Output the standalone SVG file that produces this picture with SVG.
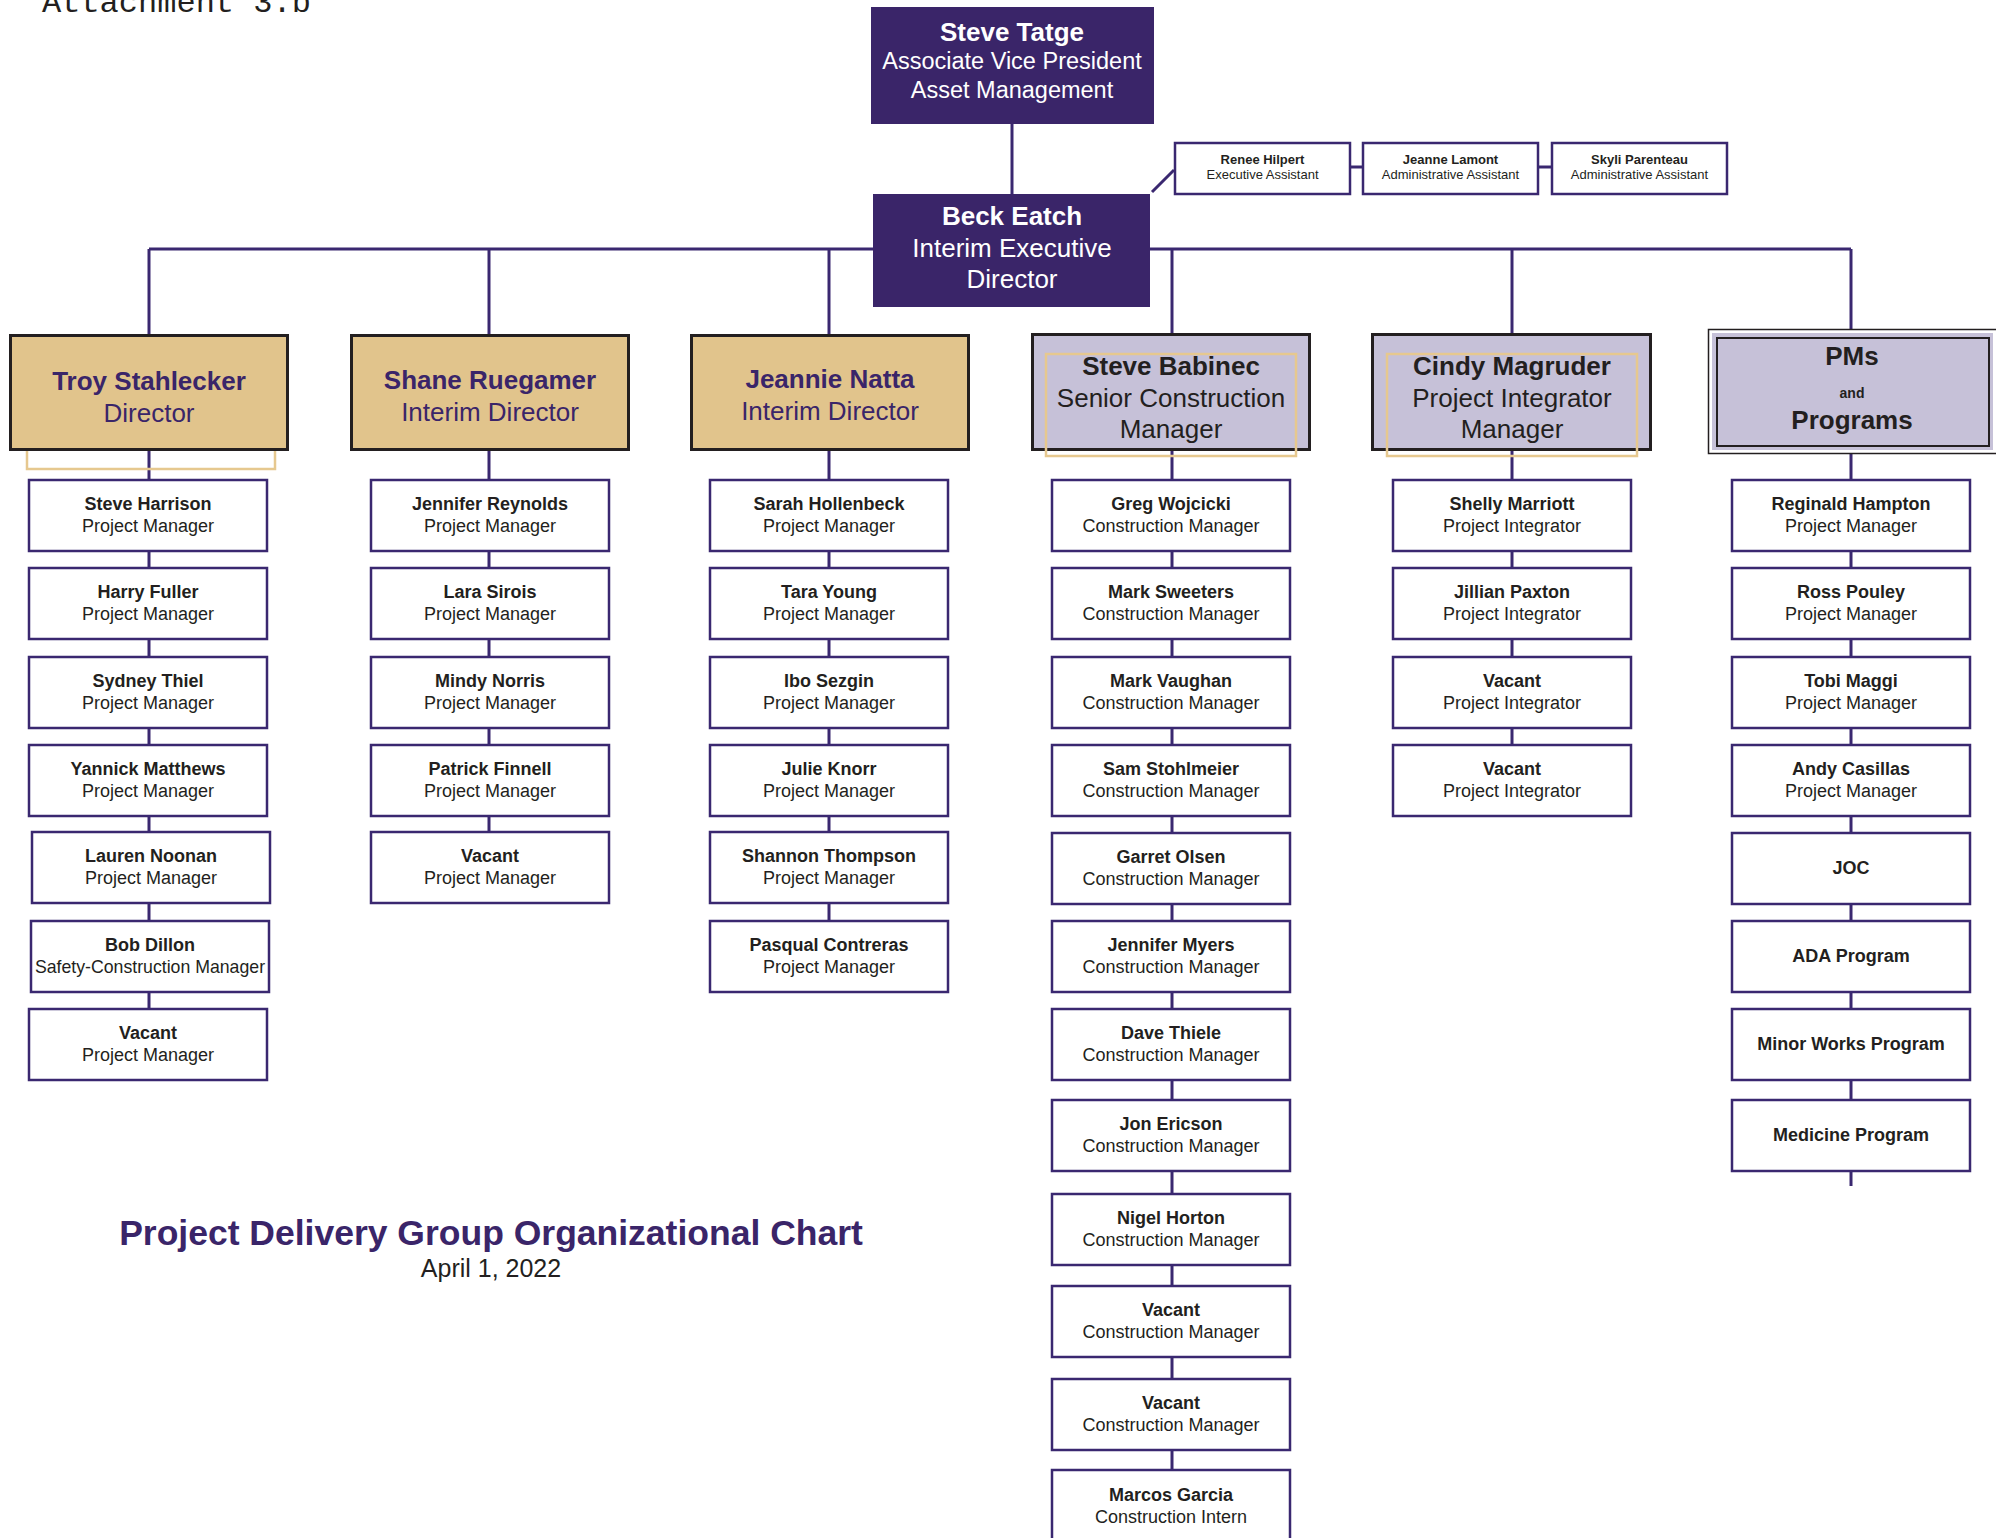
<svg xmlns="http://www.w3.org/2000/svg" width="1996" height="1538" viewBox="0 0 1996 1538">
<style>
  text { font-family: "Liberation Sans", Arial, sans-serif; text-anchor: middle; fill: #231f20; }
  .b { font-weight: bold; }
  .exec { fill: #3a2569; }
  .wt { fill: #ffffff; }
  .dir { fill: #e1c48c; stroke: #231f20; stroke-width: 3; }
  .lav { fill: #c6c1d8; stroke: #231f20; stroke-width: 3; }
  .box { fill: #ffffff; stroke: #3a2870; stroke-width: 2.5; }
  .gold { fill: none; stroke: #e6c88f; stroke-width: 2.5; }
  .ln { fill: none; stroke: #3a2870; stroke-width: 3; }
  .n { font-size: 18px; font-weight: bold; }
  .r { font-size: 18px; }
  .s { font-size: 13px; }
  .big { font-size: 26px; }
  .pur { fill: #3a2569; }
</style>

<text x="42" y="12" style="font-family:'Liberation Mono','Courier New',monospace;font-size:32px;text-anchor:start">Attachment 3.b</text>

<g id="connectors">
  <line class="ln" x1="1012" y1="124" x2="1012" y2="194"/>
  <line class="ln" x1="149" y1="249" x2="1851" y2="249"/>
  <line class="ln" x1="149" y1="249" x2="149" y2="334"/>
  <line class="ln" x1="489" y1="249" x2="489" y2="334"/>
  <line class="ln" x1="829" y1="249" x2="829" y2="334"/>
  <line class="ln" x1="1172" y1="249" x2="1172" y2="333"/>
  <line class="ln" x1="1512" y1="249" x2="1512" y2="333"/>
  <line class="ln" x1="1851" y1="249" x2="1851" y2="329"/>
  <line class="ln" x1="1152" y1="192" x2="1174" y2="170" stroke-width="2.5"/>
  <line class="ln" x1="1351" y1="167" x2="1362" y2="167" stroke-width="2.5"/>
  <line class="ln" x1="1539" y1="167" x2="1551" y2="167" stroke-width="2.5"/>
  <line class="ln" x1="149" y1="451" x2="149" y2="1008"/>
  <line class="ln" x1="489" y1="451" x2="489" y2="831"/>
  <line class="ln" x1="829" y1="451" x2="829" y2="920"/>
  <line class="ln" x1="1172" y1="451" x2="1172" y2="1470"/>
  <line class="ln" x1="1512" y1="451" x2="1512" y2="744"/>
  <line class="ln" x1="1851" y1="454" x2="1851" y2="1186"/>
</g>

<g id="n-tatge">
  <rect class="exec" x="871" y="7" width="283" height="117"/>
  <text class="wt b big" x="1012" y="41">Steve Tatge</text>
  <text class="wt" x="1012" y="69" style="font-size:23.5px">Associate Vice President</text>
  <text class="wt" x="1012" y="98" style="font-size:23.5px">Asset Management</text>
</g>

<g id="n-eatch">
  <rect class="exec" x="873" y="194" width="277" height="113"/>
  <text class="wt b big" x="1012" y="225">Beck Eatch</text>
  <text class="wt big" x="1012" y="257">Interim Executive</text>
  <text class="wt big" x="1012" y="288">Director</text>
</g>

<g id="n-hilpert">
  <rect class="box" x="1175" y="143" width="175" height="51" stroke-width="2"/>
  <text class="b s" x="1262.5" y="164">Renee Hilpert</text>
  <text class="s" x="1262.5" y="179">Executive Assistant</text>
</g>
<g id="n-lamont">
  <rect class="box" x="1363" y="143" width="175" height="51" stroke-width="2"/>
  <text class="b s" x="1450.5" y="164">Jeanne Lamont</text>
  <text class="s" x="1450.5" y="179">Administrative Assistant</text>
</g>
<g id="n-parenteau">
  <rect class="box" x="1552" y="143" width="175" height="51" stroke-width="2"/>
  <text class="b s" x="1639.5" y="164">Skyli Parenteau</text>
  <text class="s" x="1639.5" y="179">Administrative Assistant</text>
</g>

<g id="n-stahlecker">
  <rect class="gold" x="27" y="380" width="248" height="89"/>
  <rect class="dir" x="10.5" y="335.5" width="277" height="114"/>
  <text class="b big pur" x="149" y="390">Troy Stahlecker</text>
  <text class="big pur" x="149" y="422">Director</text>
</g>
<g id="n-ruegamer">
  <rect class="dir" x="351.5" y="335.5" width="277" height="114"/>
  <text class="b big pur" x="490" y="389">Shane Ruegamer</text>
  <text class="big pur" x="490" y="421">Interim Director</text>
</g>
<g id="n-natta">
  <rect class="dir" x="691.5" y="335.5" width="277" height="114"/>
  <text class="b big pur" x="830" y="388">Jeannie Natta</text>
  <text class="big pur" x="830" y="420">Interim Director</text>
</g>
<g id="n-babinec">
  <rect class="lav" x="1032.5" y="334.5" width="277" height="115"/>
  <rect class="gold" x="1046" y="354" width="250" height="102"/>
  <text class="b big" x="1171" y="375">Steve Babinec</text>
  <text class="big" x="1171" y="407">Senior Construction</text>
  <text class="big" x="1171" y="438">Manager</text>
</g>
<g id="n-magruder">
  <rect class="lav" x="1372.5" y="334.5" width="278" height="115"/>
  <rect class="gold" x="1387" y="354" width="250" height="102"/>
  <text class="b big" x="1512" y="375">Cindy Magruder</text>
  <text class="big" x="1512" y="407">Project Integrator</text>
  <text class="big" x="1512" y="438">Manager</text>
</g>
<g id="n-pms">
  <rect x="1708.5" y="329.5" width="300" height="124" fill="#ffffff" stroke="#231f20" stroke-width="1.5"/>
  <rect x="1712" y="333" width="281" height="117" fill="#c6c1d8"/>
  <rect x="1717" y="338" width="272" height="108" fill="none" stroke="#231f20" stroke-width="2"/>
  <text class="b big" x="1852" y="365">PMs</text>
  <text class="b" x="1852" y="398" style="font-size:14px">and</text>
  <text class="b big" x="1852" y="429">Programs</text>
</g>

<!-- Column 1 -->
<g id="n-harrison"><rect class="box" x="29" y="480" width="238" height="71"/><text class="n" x="148" y="510">Steve Harrison</text><text class="r" x="148" y="532">Project Manager</text></g>
<g id="n-fuller"><rect class="box" x="29" y="568" width="238" height="71"/><text class="n" x="148" y="598">Harry Fuller</text><text class="r" x="148" y="620">Project Manager</text></g>
<g id="n-thiel"><rect class="box" x="29" y="657" width="238" height="71"/><text class="n" x="148" y="687">Sydney Thiel</text><text class="r" x="148" y="709">Project Manager</text></g>
<g id="n-matthews"><rect class="box" x="29" y="745" width="238" height="71"/><text class="n" x="148" y="775">Yannick Matthews</text><text class="r" x="148" y="797">Project Manager</text></g>
<g id="n-noonan"><rect class="box" x="32" y="832" width="238" height="71"/><text class="n" x="151" y="862">Lauren Noonan</text><text class="r" x="151" y="884">Project Manager</text></g>
<g id="n-dillon"><rect class="box" x="31" y="921" width="238" height="71"/><text class="n" x="150" y="951">Bob Dillon</text><text class="r" x="150" y="973" style="font-size:17.7px">Safety-Construction Manager</text></g>
<g id="n-vacant1"><rect class="box" x="29" y="1009" width="238" height="71"/><text class="n" x="148" y="1039">Vacant</text><text class="r" x="148" y="1061">Project Manager</text></g>

<!-- Column 2 -->
<g id="n-reynolds"><rect class="box" x="371" y="480" width="238" height="71"/><text class="n" x="490" y="510">Jennifer Reynolds</text><text class="r" x="490" y="532">Project Manager</text></g>
<g id="n-sirois"><rect class="box" x="371" y="568" width="238" height="71"/><text class="n" x="490" y="598">Lara Sirois</text><text class="r" x="490" y="620">Project Manager</text></g>
<g id="n-norris"><rect class="box" x="371" y="657" width="238" height="71"/><text class="n" x="490" y="687">Mindy Norris</text><text class="r" x="490" y="709">Project Manager</text></g>
<g id="n-finnell"><rect class="box" x="371" y="745" width="238" height="71"/><text class="n" x="490" y="775">Patrick Finnell</text><text class="r" x="490" y="797">Project Manager</text></g>
<g id="n-vacant2"><rect class="box" x="371" y="832" width="238" height="71"/><text class="n" x="490" y="862">Vacant</text><text class="r" x="490" y="884">Project Manager</text></g>

<!-- Column 3 -->
<g id="n-hollenbeck"><rect class="box" x="710" y="480" width="238" height="71"/><text class="n" x="829" y="510">Sarah Hollenbeck</text><text class="r" x="829" y="532">Project Manager</text></g>
<g id="n-young"><rect class="box" x="710" y="568" width="238" height="71"/><text class="n" x="829" y="598">Tara Young</text><text class="r" x="829" y="620">Project Manager</text></g>
<g id="n-sezgin"><rect class="box" x="710" y="657" width="238" height="71"/><text class="n" x="829" y="687">Ibo Sezgin</text><text class="r" x="829" y="709">Project Manager</text></g>
<g id="n-knorr"><rect class="box" x="710" y="745" width="238" height="71"/><text class="n" x="829" y="775">Julie Knorr</text><text class="r" x="829" y="797">Project Manager</text></g>
<g id="n-thompson"><rect class="box" x="710" y="832" width="238" height="71"/><text class="n" x="829" y="862">Shannon Thompson</text><text class="r" x="829" y="884">Project Manager</text></g>
<g id="n-contreras"><rect class="box" x="710" y="921" width="238" height="71"/><text class="n" x="829" y="951">Pasqual Contreras</text><text class="r" x="829" y="973">Project Manager</text></g>

<!-- Column 4 -->
<g id="n-wojcicki"><rect class="box" x="1052" y="480" width="238" height="71"/><text class="n" x="1171" y="510">Greg Wojcicki</text><text class="r" x="1171" y="532">Construction Manager</text></g>
<g id="n-sweeters"><rect class="box" x="1052" y="568" width="238" height="71"/><text class="n" x="1171" y="598">Mark Sweeters</text><text class="r" x="1171" y="620">Construction Manager</text></g>
<g id="n-vaughan"><rect class="box" x="1052" y="657" width="238" height="71"/><text class="n" x="1171" y="687">Mark Vaughan</text><text class="r" x="1171" y="709">Construction Manager</text></g>
<g id="n-stohlmeier"><rect class="box" x="1052" y="745" width="238" height="71"/><text class="n" x="1171" y="775">Sam Stohlmeier</text><text class="r" x="1171" y="797">Construction Manager</text></g>
<g id="n-olsen"><rect class="box" x="1052" y="833" width="238" height="71"/><text class="n" x="1171" y="863">Garret Olsen</text><text class="r" x="1171" y="885">Construction Manager</text></g>
<g id="n-myers"><rect class="box" x="1052" y="921" width="238" height="71"/><text class="n" x="1171" y="951">Jennifer Myers</text><text class="r" x="1171" y="973">Construction Manager</text></g>
<g id="n-thiele"><rect class="box" x="1052" y="1009" width="238" height="71"/><text class="n" x="1171" y="1039">Dave Thiele</text><text class="r" x="1171" y="1061">Construction Manager</text></g>
<g id="n-ericson"><rect class="box" x="1052" y="1100" width="238" height="71"/><text class="n" x="1171" y="1130">Jon Ericson</text><text class="r" x="1171" y="1152">Construction Manager</text></g>
<g id="n-horton"><rect class="box" x="1052" y="1194" width="238" height="71"/><text class="n" x="1171" y="1224">Nigel Horton</text><text class="r" x="1171" y="1246">Construction Manager</text></g>
<g id="n-vacant3"><rect class="box" x="1052" y="1286" width="238" height="71"/><text class="n" x="1171" y="1316">Vacant</text><text class="r" x="1171" y="1338">Construction Manager</text></g>
<g id="n-vacant4"><rect class="box" x="1052" y="1379" width="238" height="71"/><text class="n" x="1171" y="1409">Vacant</text><text class="r" x="1171" y="1431">Construction Manager</text></g>
<g id="n-garcia"><rect class="box" x="1052" y="1470" width="238" height="90"/><text class="n" x="1171" y="1501">Marcos Garcia</text><text class="r" x="1171" y="1523">Construction Intern</text></g>

<!-- Column 5 -->
<g id="n-marriott"><rect class="box" x="1393" y="480" width="238" height="71"/><text class="n" x="1512" y="510">Shelly Marriott</text><text class="r" x="1512" y="532">Project Integrator</text></g>
<g id="n-paxton"><rect class="box" x="1393" y="568" width="238" height="71"/><text class="n" x="1512" y="598">Jillian Paxton</text><text class="r" x="1512" y="620">Project Integrator</text></g>
<g id="n-vacant5"><rect class="box" x="1393" y="657" width="238" height="71"/><text class="n" x="1512" y="687">Vacant</text><text class="r" x="1512" y="709">Project Integrator</text></g>
<g id="n-vacant6"><rect class="box" x="1393" y="745" width="238" height="71"/><text class="n" x="1512" y="775">Vacant</text><text class="r" x="1512" y="797">Project Integrator</text></g>

<!-- Column 6 -->
<g id="n-hampton"><rect class="box" x="1732" y="480" width="238" height="71"/><text class="n" x="1851" y="510">Reginald Hampton</text><text class="r" x="1851" y="532">Project Manager</text></g>
<g id="n-pouley"><rect class="box" x="1732" y="568" width="238" height="71"/><text class="n" x="1851" y="598">Ross Pouley</text><text class="r" x="1851" y="620">Project Manager</text></g>
<g id="n-maggi"><rect class="box" x="1732" y="657" width="238" height="71"/><text class="n" x="1851" y="687">Tobi Maggi</text><text class="r" x="1851" y="709">Project Manager</text></g>
<g id="n-casillas"><rect class="box" x="1732" y="745" width="238" height="71"/><text class="n" x="1851" y="775">Andy Casillas</text><text class="r" x="1851" y="797">Project Manager</text></g>
<g id="n-joc"><rect class="box" x="1732" y="833" width="238" height="71"/><text class="n" x="1851" y="874">JOC</text></g>
<g id="n-ada"><rect class="box" x="1732" y="921" width="238" height="71"/><text class="n" x="1851" y="962">ADA Program</text></g>
<g id="n-minor"><rect class="box" x="1732" y="1009" width="238" height="71"/><text class="n" x="1851" y="1050">Minor Works Program</text></g>
<g id="n-medicine"><rect class="box" x="1732" y="1100" width="238" height="71"/><text class="n" x="1851" y="1141">Medicine Program</text></g>

<g id="title">
  <text class="b pur" x="491" y="1245" style="font-size:35.5px">Project Delivery Group Organizational Chart</text>
  <text x="491" y="1277" style="font-size:25px">April 1, 2022</text>
</g>
</svg>
